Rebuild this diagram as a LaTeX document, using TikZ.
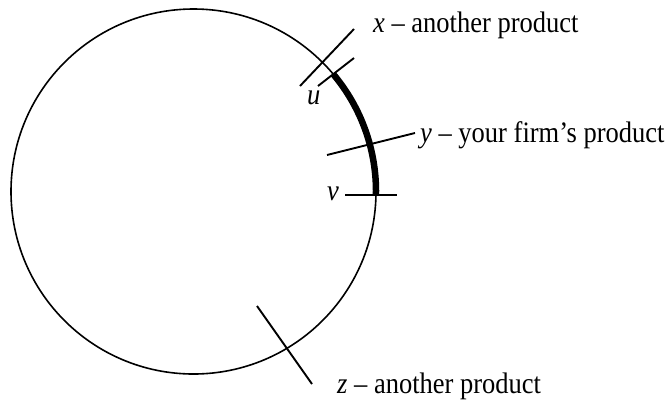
\documentclass[tikz,border=0pt]{standalone}
\usepackage{fontspec}
\setmainfont{Liberation Serif}
\usetikzlibrary{calc}
\newcommand{\tallish}[1]{\scalebox{1}[1.12]{#1}}
\begin{document}
\begin{tikzpicture}[x=1pt,y=-1pt,
  lbl/.style={anchor=base west,inner sep=0pt,font=\fontsize{26.5}{30}\selectfont},
  tick/.style={line width=1.9pt},
  ring/.style={line width=1.6pt}]
\useasboundingbox (0,0) rectangle (668,400);
\coordinate (c) at (193.5,191.5);
\draw[ring] (c) circle[radius=182.5pt];
\draw[line width=6.5pt] ($(c)+(40:182.5pt)$) arc[start angle=40,end angle=-1,radius=182.5pt];
% ticks
\coordinate (xa) at (300,86);  \coordinate (xb) at (354,29);
\coordinate (ua) at (318,86);  \coordinate (ub) at (354,58);
\coordinate (ya) at (327,155); \coordinate (yb) at (415,133);
\coordinate (va) at (345,195); \coordinate (vb) at (397,195);
\coordinate (za) at (257,306); \coordinate (zb) at (312,384);
\draw[tick] (xa) -- (xb);
\draw[tick] (ua) -- (ub);
\draw[tick] (ya) -- (yb);
\draw[tick] (va) -- (vb);
\draw[tick] (za) -- (zb);
% labels
\node[lbl] (xl) at (373,32) {\tallish{\textit{x} – another product}};
\node[lbl] (yl) at (420,142) {\tallish{\textit{y} – your firm’s product}};
\node[lbl] (zl) at (337,393) {\tallish{\textit{z} – another product}};
\node[lbl] (ul) at (307,104) {\tallish{\textit{u}}};
\node[lbl] (vl) at (327,200) {\tallish{\textit{v}}};
\end{tikzpicture}
\end{document}
